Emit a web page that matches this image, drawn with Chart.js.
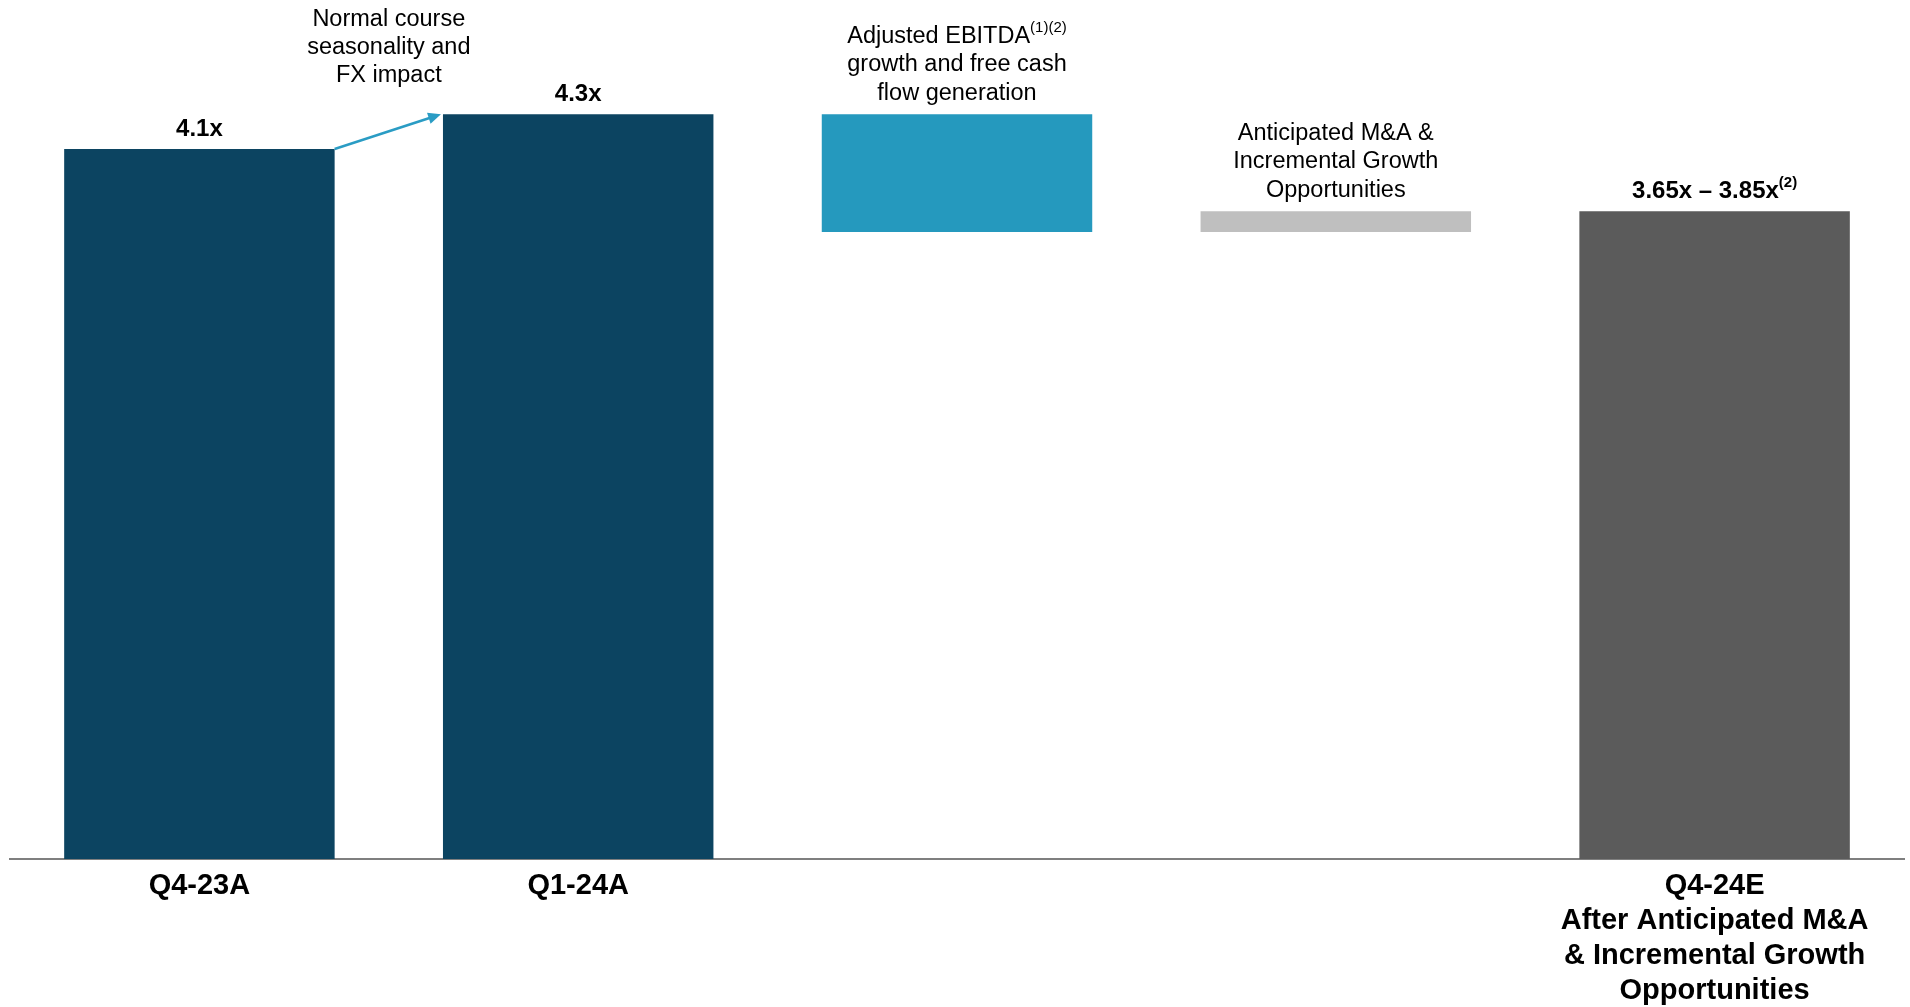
<!DOCTYPE html>
<html>
<head>
<meta charset="utf-8">
<script src="https://cdn.jsdelivr.net/npm/chart.js@4.4.1/dist/chart.umd.min.js"></script>
<style>
  html, body { margin: 0; padding: 0; background: #FFFFFF; }
  canvas { display: block; }
</style>
</head>
<body>
<canvas id="leverageChart" width="1910" height="1007"></canvas>
<script>
// Leverage walk: Q4-23A -> Q1-24A -> Q4-24E
const categories = [
    ['Q4-23A'],
    ['Q1-24A'],
    [''],
    [''],
    ['Q4-24E', 'After Anticipated M&A', '& Incremental Growth', 'Opportunities']
];
const barLow = [0, 0, 3.62, 3.62, 0];
const barHigh = [4.1, 4.3, 4.3, 3.74, 3.74];
const barColors = ['#0C4461', '#0C4461', '#2599BE', '#BFBFBF', '#5B5B5B'];
const valueLabels = ['4.1x', '4.3x', '', '', '3.65x \u2013 3.85x'];
const valueNotes = ['', '', '', '', '(2)'];
const stepNotes = [
    [],
    [],
    [[['Adjusted EBITDA', false], ['(1)(2)', true]], [['growth and free cash', false]], [['flow generation', false]]],
    [[['Anticipated M&A &', false]], [['Incremental Growth', false]], [['Opportunities', false]]],
    []
];
const bridgeNote = ['Normal course', 'seasonality and', 'FX impact'];

const FONT = "'Liberation Sans', Arial, sans-serif";

// draws a line made of normal + superscript parts, centred on x
function drawRichLine(ctx, parts, x, y, size, weight) {
    const supSize = Math.round(size * 0.64);
    let total = 0;
    parts.forEach(([txt, sup]) => {
        ctx.font = `${weight} ${sup ? supSize : size}px ${FONT}`;
        total += ctx.measureText(txt).width;
    });
    let cx = x - total / 2;
    ctx.textAlign = 'left';
    ctx.textBaseline = 'middle';
    parts.forEach(([txt, sup]) => {
        ctx.font = `${weight} ${sup ? supSize : size}px ${FONT}`;
        ctx.fillText(txt, cx, sup ? y - size * 0.36 : y);
        cx += ctx.measureText(txt).width;
    });
}

const labelPlugin = {
    id: 'walkLabels',
    afterDatasetsDraw(chart) {
        const ctx = chart.ctx;
        const bars = chart.getDatasetMeta(0).data;
        ctx.save();
        ctx.fillStyle = '#000000';

        // value labels on top of the bars
        bars.forEach((bar, i) => {
            if (!valueLabels[i]) return;
            const parts = [[valueLabels[i], false]];
            if (valueNotes[i]) parts.push([valueNotes[i], true]);
            drawRichLine(ctx, parts, bar.x, bar.y - 20, 24, 'bold');
        });

        // step descriptions above the floating bars
        bars.forEach((bar, i) => {
            const lines = stepNotes[i];
            if (!lines.length) return;
            const lh = 28.5;
            lines.forEach((parts, j) => {
                const y = bar.y - 21 - (lines.length - 1 - j) * lh;
                drawRichLine(ctx, parts, bar.x, y, 23.5, 'normal');
            });
        });

        // arrow between first two bars
        const b0 = bars[0], b1 = bars[1];
        const x1 = b0.x + b0.width / 2, y1 = b0.y;
        const x2 = b1.x - b1.width / 2 - 2, y2 = b1.y;
        const ang = Math.atan2(y2 - y1, x2 - x1);
        const head = 14;
        ctx.strokeStyle = '#2A9CC4';
        ctx.fillStyle = '#2A9CC4';
        ctx.lineWidth = 2.5;
        ctx.beginPath();
        ctx.moveTo(x1, y1);
        ctx.lineTo(x2 - head * 0.8 * Math.cos(ang), y2 - head * 0.8 * Math.sin(ang));
        ctx.stroke();
        ctx.beginPath();
        ctx.moveTo(x2, y2);
        ctx.lineTo(x2 - head * Math.cos(ang - 0.42), y2 - head * Math.sin(ang - 0.42));
        ctx.lineTo(x2 - head * Math.cos(ang + 0.42), y2 - head * Math.sin(ang + 0.42));
        ctx.closePath();
        ctx.fill();

        // note for the bridge between Q4-23A and Q1-24A
        ctx.fillStyle = '#000000';
        const midX = (b0.x + b1.x) / 2;
        bridgeNote.forEach((line, j) => {
            const y = b1.y - 39 - (bridgeNote.length - 1 - j) * 28;
            drawRichLine(ctx, [[line, false]], midX, y, 23.5, 'normal');
        });
        ctx.restore();
    }
};

new Chart(document.getElementById('leverageChart'), {
    type: 'bar',
    data: {
        labels: categories,
        datasets: [{
            data: barLow.map((lo, i) => [lo, barHigh[i]]),
            backgroundColor: barColors,
            borderWidth: 0,
            barPercentage: 1,
            categoryPercentage: 0.714
        }]
    },
    options: {
        responsive: false,
        animation: false,
        layout: { padding: { left: 10, right: 6, top: 0, bottom: 0 } },
        plugins: { legend: { display: false }, tooltip: { enabled: false } },
        scales: {
            x: {
                grid: { display: false, drawTicks: false },
                border: { display: true, color: '#7F7F7F', width: 2 },
                afterFit(scale) { scale.height = 148; },
                ticks: {
                    color: '#000000',
                    padding: 10,
                    maxRotation: 0,
                    autoSkip: false,
                    font: { family: FONT, size: 29, weight: 'bold', lineHeight: 1.2 }
                }
            },
            y: {
                display: false,
                min: 0,
                max: 4.96
            }
        }
    },
    plugins: [labelPlugin]
});
</script>
</body>
</html>
